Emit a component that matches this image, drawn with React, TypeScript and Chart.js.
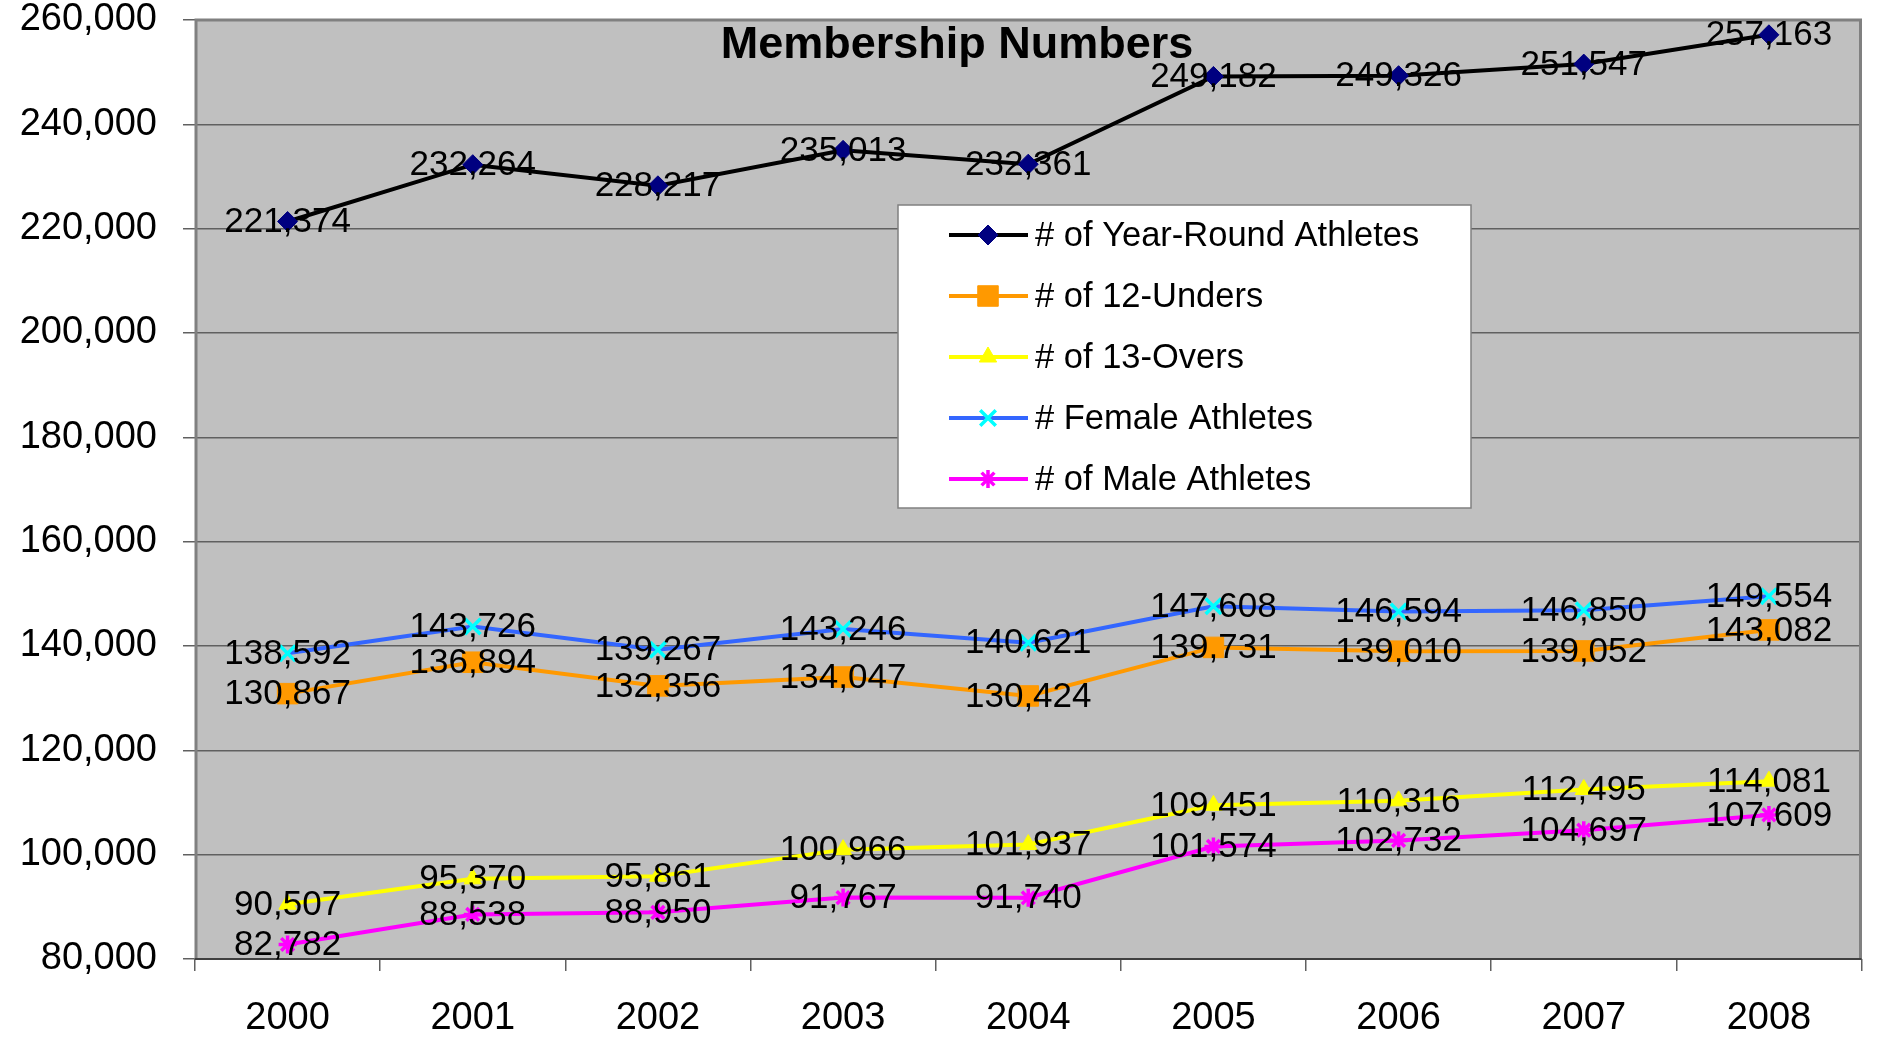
import React, { useEffect, useRef } from "react";
import { Chart, registerables } from "chart.js";
import { drawPoint } from "chart.js/helpers";

Chart.register(...registerables);

const years = ["2000", "2001", "2002", "2003", "2004", "2005", "2006", "2007", "2008"];
const yearRound = [221374, 232264, 228217, 235013, 232361, 249182, 249326, 251547, 257163];
const under12 = [130867, 136894, 132356, 134047, 130424, 139731, 139010, 139052, 143082];
const over13 = [90507, 95370, 95861, 100966, 101937, 109451, 110316, 112495, 114081];
const female = [138592, 143726, 139267, 143246, 140621, 147608, 146594, 146850, 149554];
const male = [82782, 88538, 88950, 91767, 91740, 101574, 102732, 104697, 107609];

const seriesNames = [
  "# of Year-Round Athletes",
  "# of 12-Unders",
  "# of 13-Overs",
  "# Female Athletes",
  "# of Male Athletes",
];
const titleText = "Membership Numbers";
const yMin = 80000;
const yMax = 260000;
const yStep = 20000;

const FONT = '"Liberation Sans", Arial, sans-serif';
const W = 1877;
const H = 1041;

const fmt = (v: number) => v.toLocaleString("en-US");

export default function App() {
  const ref = useRef<HTMLCanvasElement | null>(null);

  useEffect(() => {
    document.body.style.margin = "0";
    document.body.style.overflow = "hidden";
    const canvas = ref.current;
    if (!canvas) return;

    const plotBg = {
      id: "plotBg",
      beforeDraw(chart: any) {
        const { ctx, chartArea: a } = chart;
        ctx.save();
        ctx.fillStyle = "#FFFFFF";
        ctx.fillRect(0, 0, chart.width, chart.height);
        ctx.fillStyle = "#C0C0C0";
        ctx.fillRect(a.left, a.top, a.right - a.left, a.bottom - a.top);
        ctx.restore();
      },
      beforeDatasetsDraw(chart: any) {
        const { ctx, chartArea: a } = chart;
        ctx.save();
        ctx.strokeStyle = "#808080";
        ctx.lineWidth = 3;
        ctx.beginPath();
        ctx.moveTo(a.left + 1, a.bottom);
        ctx.lineTo(a.left + 1, a.top);
        ctx.lineTo(a.right - 1, a.top);
        ctx.lineTo(a.right - 1, a.bottom);
        ctx.stroke();
        ctx.strokeStyle = "#404040";
        ctx.lineWidth = 2;
        ctx.beginPath();
        ctx.moveTo(a.left, a.bottom);
        ctx.lineTo(a.right, a.bottom);
        ctx.stroke();
        ctx.restore();
      },
    };

    const labelsAndLegend = {
      id: "labelsAndLegend",
      afterDatasetsDraw(chart: any) {
        const { ctx } = chart;
        ctx.save();
        ctx.font = `35px ${FONT}`;
        ctx.fillStyle = "#000000";
        ctx.textAlign = "center";
        ctx.textBaseline = "middle";
        chart.data.datasets.forEach((ds: any, di: number) => {
          const meta = chart.getDatasetMeta(di);
          meta.data.forEach((pt: any, i: number) => {
            ctx.fillText(fmt(ds.data[i]), pt.x, pt.y + 1);
          });
        });
        ctx.restore();
      },
      afterDraw(chart: any) {
        const { ctx } = chart;
        ctx.save();
        // title
        ctx.font = `bold 45px ${FONT}`;
        ctx.fillStyle = "#000000";
        ctx.textAlign = "center";
        ctx.textBaseline = "alphabetic";
        ctx.fillText(titleText, 957, 58);

        // legend box
        const bx = 898, by = 205, bw = 573, bh = 303;
        ctx.fillStyle = "#FFFFFF";
        ctx.fillRect(bx, by, bw, bh);
        ctx.strokeStyle = "#808080";
        ctx.lineWidth = 1.5;
        ctx.strokeRect(bx, by, bw, bh);

        const rowY0 = 235;
        const rowGap = 61;
        chart.data.datasets.forEach((ds: any, di: number) => {
          const y = rowY0 + di * rowGap;
          ctx.strokeStyle = ds.borderColor;
          ctx.lineWidth = 4;
          ctx.beginPath();
          ctx.moveTo(949, y);
          ctx.lineTo(1028, y);
          ctx.stroke();
          ctx.fillStyle = ds.pointBackgroundColor;
          ctx.strokeStyle = ds.pointBorderColor;
          ctx.lineWidth = ds.pointBorderWidth;
          drawPoint(
            ctx,
            { pointStyle: ds.pointStyle, radius: ds.pointRadius, rotation: 0, borderWidth: ds.pointBorderWidth },
            988,
            y
          );
          ctx.fillStyle = "#000000";
          ctx.font = `34.5px ${FONT}`;
          ctx.textAlign = "left";
          ctx.textBaseline = "middle";
          ctx.fillText(ds.label, 1035, y + 1);
        });
        ctx.restore();
      },
    };

    const chart = new Chart(canvas, {
      type: "line",
      data: {
        labels: years,
        datasets: [
          {
            label: seriesNames[0],
            data: yearRound,
            borderColor: "#000000",
            borderWidth: 4,
            pointStyle: "rectRot",
            pointRadius: 10,
            pointBackgroundColor: "#000080",
            pointBorderColor: "#000080",
            pointBorderWidth: 1,
          },
          {
            label: seriesNames[1],
            data: under12,
            borderColor: "#FF9900",
            borderWidth: 4,
            pointStyle: "rect",
            pointRadius: 14.5,
            pointBackgroundColor: "#FF9900",
            pointBorderColor: "#FF9900",
            pointBorderWidth: 1,
          },
          {
            label: seriesNames[2],
            data: over13,
            borderColor: "#FFFF00",
            borderWidth: 4,
            pointStyle: "triangle",
            pointRadius: 10,
            pointBackgroundColor: "#FFFF00",
            pointBorderColor: "#FFFF00",
            pointBorderWidth: 1,
          },
          {
            label: seriesNames[3],
            data: female,
            borderColor: "#3366FF",
            borderWidth: 4,
            pointStyle: "crossRot",
            pointRadius: 11,
            pointBackgroundColor: "#00FFFF",
            pointBorderColor: "#00FFFF",
            pointBorderWidth: 3.5,
          },
          {
            label: seriesNames[4],
            data: male,
            borderColor: "#FF00FF",
            borderWidth: 4,
            pointStyle: "star",
            pointRadius: 9,
            pointBackgroundColor: "#FF00FF",
            pointBorderColor: "#FF00FF",
            pointBorderWidth: 3.5,
          },
        ],
      },
      options: {
        animation: false,
        responsive: false,
        devicePixelRatio: 1,
        layout: { padding: { top: 20, right: 13, left: 0, bottom: 0 } },
        plugins: {
          legend: { display: false },
          title: { display: false },
          tooltip: { enabled: false },
        },
        elements: { line: { tension: 0 } },
        scales: {
          x: {
            type: "category",
            offset: true,
            grid: {
              offset: true,
              drawOnChartArea: false,
              drawTicks: true,
              tickLength: 12,
              color: "#606060",
              lineWidth: 1.5,
            },
            border: { display: false },
            ticks: {
              color: "#000000",
              font: { family: FONT, size: 38 },
              padding: 25,
              maxRotation: 0,
              autoSkip: false,
            },
            afterFit(scale: any) {
              scale.height = 82;
              scale.paddingLeft = 0;
              scale.paddingRight = 0;
            },
          },
          y: {
            min: yMin,
            max: yMax,
            grid: {
              color: "#606060",
              lineWidth: 1.5,
              tickLength: 12,
              drawTicks: true,
            },
            border: { display: false },
            ticks: {
              stepSize: yStep,
              color: "#000000",
              font: { family: FONT, size: 38 },
              padding: 26,
              callback: (v: any) => fmt(Number(v)),
            },
            afterFit(scale: any) {
              scale.width = 195;
              scale.paddingTop = 0;
              scale.paddingBottom = 0;
            },
          },
        },
      },
      plugins: [plotBg, labelsAndLegend],
    } as any);

    return () => chart.destroy();
  }, []);

  return (
    <div style={{ width: W, height: H, background: "#FFFFFF" }}>
      <canvas ref={ref} width={W} height={H} style={{ display: "block" }} />
    </div>
  );
}
